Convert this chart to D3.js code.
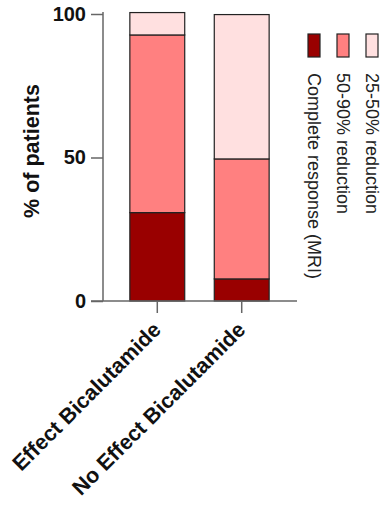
<!DOCTYPE html>
<html>
<head>
<meta charset="utf-8">
<script src="https://cdn.jsdelivr.net/npm/d3@7"></script>
<style>
  html, body { margin: 0; padding: 0; background: #fff; }
  svg { display: block; font-family: "Liberation Sans", Arial, sans-serif; }
</style>
</head>
<body>
<svg id="chart" width="383" height="506"></svg>
<script>
// Treatment groups on the x axis
const groups = ["Effect Bicalutamide", "No Effect Bicalutamide"];
// Response categories, stacked bottom to top
const seriesNames = ["Complete response (MRI)", "50-90% reduction", "25-50% reduction"];
const seriesColors = ["#990000", "#ff8080", "#ffe0e0"];
// Percent of patients per group for each category
const completeResponse = [30.8, 7.7];
const reduction50to90 = [61.9, 41.8];
const reduction25to50 = [7.8, 50.3];
const yTicks = [0, 50, 100];

const rows = groups.map((g, i) => ({
  group: g,
  [seriesNames[0]]: completeResponse[i],
  [seriesNames[1]]: reduction50to90[i],
  [seriesNames[2]]: reduction25to50[i]
}));
const stacked = d3.stack().keys(seriesNames)(rows);

const svg = d3.select("#chart");
const axisColor = "#666";
const font = "Liberation Sans, Arial, sans-serif";

const x = d3.scaleBand().domain(groups).range([102, 297]).paddingInner(0.35).paddingOuter(0.33);
const y = d3.scaleLinear().domain([0, 100]).range([301, 14]);

// Stacked bars
svg.append("g").selectAll("g")
  .data(stacked)
  .join("g")
  .attr("fill", (d, i) => seriesColors[i])
  .selectAll("rect")
  .data(d => d)
  .join("rect")
  .attr("x", d => x(d.data.group))
  .attr("width", x.bandwidth())
  .attr("y", d => y(d[1]))
  .attr("height", d => y(d[0]) - y(d[1]))
  .attr("stroke", "#222")
  .attr("stroke-width", 1.2);

// Y axis
const yAxis = svg.append("g")
  .attr("transform", "translate(103,0)")
  .call(d3.axisLeft(y).tickValues(yTicks).tickSize(12).tickPadding(5).tickSizeOuter(0));
yAxis.select(".domain").attr("stroke", axisColor).attr("stroke-width", 1.5)
  .attr("d", `M0,${y(100) - 2}V${y(0)}`);
yAxis.selectAll(".tick line").attr("stroke", axisColor).attr("stroke-width", 1.5);
yAxis.selectAll(".tick text")
  .attr("fill", "#111").attr("font-size", 20).attr("font-weight", "bold")
  .attr("font-family", font);

// X axis
const xAxis = svg.append("g")
  .attr("transform", `translate(0,${y(0)})`)
  .call(d3.axisBottom(x).tickSize(12).tickSizeOuter(0));
xAxis.select(".domain").attr("stroke", axisColor).attr("stroke-width", 1.5)
  .attr("d", "M91,0H297");
xAxis.selectAll(".tick line").attr("stroke", axisColor).attr("stroke-width", 1.5);
xAxis.selectAll(".tick text")
  .attr("fill", "#111").attr("font-size", 21.5).attr("font-weight", "bold")
  .attr("font-family", font)
  .attr("text-anchor", "end")
  .attr("dy", 0)
  .attr("y", 0).attr("x", 0)
  .attr("transform", "translate(5,30) rotate(-45)");

// Y axis title
svg.append("text")
  .attr("transform", "translate(39,151) rotate(-90)")
  .attr("text-anchor", "middle")
  .attr("font-size", 21.5).attr("font-weight", "bold").attr("fill", "#111")
  .text("% of patients");

// Legend, rotated to read top to bottom
const legendX = d3.scalePoint().domain(seriesNames).range([314, 372]);
const legend = svg.append("g").selectAll("g")
  .data(seriesNames)
  .join("g")
  .attr("transform", d => `translate(${legendX(d)},0)`);
legend.append("rect")
  .attr("x", -6).attr("y", 34).attr("width", 12).attr("height", 23)
  .attr("fill", (d, i) => seriesColors[i])
  .attr("stroke", "#222").attr("stroke-width", 1.2);
legend.append("text")
  .attr("transform", "translate(-6,73) rotate(90)")
  .attr("font-size", 18).attr("fill", "#222")
  .text(d => d);
</script>
</body>
</html>
